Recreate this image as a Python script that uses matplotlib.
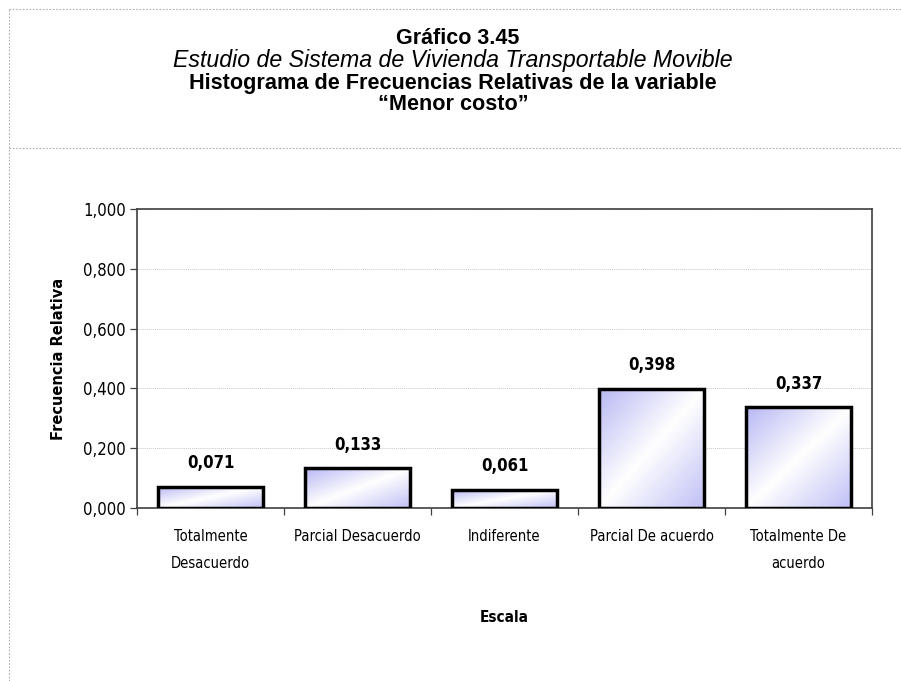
import numpy as np
import matplotlib
matplotlib.use("Agg")
import matplotlib.pyplot as plt
from matplotlib.colors import LinearSegmentedColormap
from matplotlib.lines import Line2D
from matplotlib import font_manager as fm

# data
categorias = ["Totalmente\nDesacuerdo", "Parcial Desacuerdo", "Indiferente",
              "Parcial De acuerdo", "Totalmente De\nacuerdo"]
frecuencias = [0.071, 0.133, 0.061, 0.398, 0.337]
etiquetas = ["0,071", "0,133", "0,061", "0,398", "0,337"]
yticks = [0.0, 0.2, 0.4, 0.6, 0.8, 1.0]
yticklabels = ["0,000", "0,200", "0,400", "0,600", "0,800", "1,000"]

arial = ["Liberation Sans", "DejaVu Sans"]

# look for a condensed face for the Tahoma-like axis text
cond = None
for f in fm.fontManager.ttflist:
    if "condensed" in f.fname.lower() or "narrow" in f.fname.lower():
        if "bold" not in f.fname.lower() and "oblique" not in f.fname.lower() \
                and "italic" not in f.fname.lower():
            cond = f.fname
            break
cond_bold = None
for f in fm.fontManager.ttflist:
    n = f.fname.lower()
    if ("condensed" in n or "narrow" in n) and "bold" in n and "oblique" not in n \
            and "italic" not in n:
        cond_bold = f.fname
        break
fp = fm.FontProperties(fname=cond) if cond else fm.FontProperties(family="DejaVu Sans")
fpb = fm.FontProperties(fname=cond_bold) if cond_bold else fm.FontProperties(family="DejaVu Sans", weight="bold")

fig = plt.figure(figsize=(9.01, 6.81), dpi=100)
ax = fig.add_axes([137 / 901, 1 - 508 / 681, (872 - 137) / 901, (508 - 209) / 681])

# titles
fig.text(0.508, 1 - 39 / 681, "Gráfico 3.45", ha="center", va="center",
         fontsize=15.5, fontweight="bold", family=arial)
fig.text(0.503, 1 - 61 / 681, "Estudio de Sistema de Vivienda Transportable Movible",
         ha="center", va="center", fontsize=16.7, style="italic", family=arial)
fig.text(0.503, 1 - 83 / 681, "Histograma de Frecuencias Relativas de la variable",
         ha="center", va="center", fontsize=15.6, fontweight="bold", family=arial)
fig.text(0.503, 1 - 105 / 681, "\u201cMenor costo\u201d",
         ha="center", va="center", fontsize=15.6, fontweight="bold", family=arial)

# dotted frame lines of the original document
for xs, ys in [([9 / 901, 1], [1 - 9 / 681] * 2),
               ([9 / 901, 1], [1 - 148 / 681] * 2),
               ([9 / 901] * 2, [0, 1 - 9 / 681])]:
    fig.add_artist(Line2D(xs, ys, transform=fig.transFigure, color="#b0b0b0",
                          lw=0.8, ls=(0, (1.5, 1.5))))

# gradient bars
cmap = LinearSegmentedColormap.from_list("g", ["#b8b8f4", "#ffffff", "#c0c0f6"])
gx, gy = np.meshgrid(np.linspace(0, 1, 60), np.linspace(0, 1, 60))
grad = (gx + gy) / 2

x = np.arange(len(categorias))
ancho = 0.72
bars = ax.bar(x, frecuencias, width=ancho, facecolor="none", edgecolor="black",
              linewidth=2.5, zorder=3)
for b in bars:
    x0, y0 = b.get_x(), b.get_y()
    im = ax.imshow(grad, cmap=cmap, extent=[x0, x0 + b.get_width(), y0, y0 + b.get_height()],
                   origin="upper", aspect="auto", zorder=2, vmin=0, vmax=1)
    im.set_clip_path(b)

for xi, v, t in zip(x, frecuencias, etiquetas):
    ax.annotate(t, (xi, v), xytext=(0, 17), textcoords="offset points", ha="center",
                va="center", fontproperties=fpb, fontsize=12)

ax.set_xlim(-0.5, len(categorias) - 0.5)
ax.set_ylim(0, 1.0)
ax.set_yticks(yticks)
ax.set_yticklabels(yticklabels, fontproperties=fp, fontsize=12)
ax.set_xticks(x)
ax.set_xticklabels(categorias, fontproperties=fp, fontsize=10.5, linespacing=2.0)
ax.set_xticks(np.arange(-0.5, len(categorias)), minor=True)
ax.tick_params(axis="x", which="major", length=0, pad=15)
ax.tick_params(axis="x", which="minor", length=5, width=0.9, color="#404040")
ax.tick_params(axis="y", length=5, width=0.9, color="#404040", pad=3)

ax.grid(axis="y", color="#c8c8c8", lw=0.7, ls=(0, (1, 1)), zorder=0)
for s in ax.spines.values():
    s.set_color("#404040")
    s.set_linewidth(1.2)

ax.set_xlabel("Escala", fontproperties=fpb, fontsize=11, labelpad=28)
ax.set_ylabel("Frecuencia Relativa", fontsize=10.5, fontweight="bold",
              family="DejaVu Sans", labelpad=12)

fig.savefig("out.png", dpi=100)
